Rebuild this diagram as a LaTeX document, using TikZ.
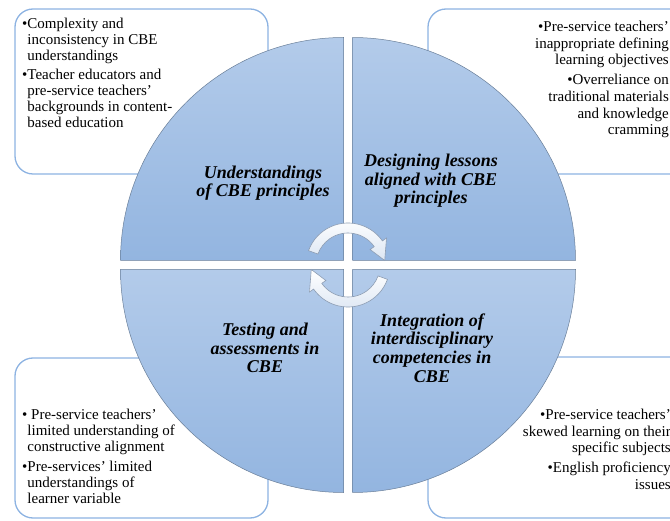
\documentclass[tikz,border=0pt]{standalone}
\usepackage{fontspec}
\setmainfont{Liberation Serif}
\definecolor{boxline}{HTML}{8DB3E2}
\definecolor{qtop}{HTML}{B3CBEA}
\definecolor{qbot}{HTML}{93B5E0}
\definecolor{qline}{HTML}{6A7F99}
\definecolor{arfill}{HTML}{DCE6F3}
\definecolor{arline}{HTML}{8C9CB2}
\newcommand{\hb}{\hphantom{\textbullet}}
\tikzset{
 issuebox/.style={draw=boxline, line width=1.3pt, fill=white, rounded corners=18pt},
 quad/.style={draw=qline, line width=0.5pt, top color=qtop, bottom color=qbot},
 qlabel/.style={font=\fontsize{18}{18.6}\selectfont\bfseries\itshape, align=center, inner sep=0pt},
 issues/.style={font=\fontsize{15}{16}\selectfont, inner sep=0pt},
 issuesr/.style={font=\fontsize{15}{16.6}\selectfont, inner sep=0pt},
 cyc/.style={draw=arline, line width=0.6pt, top color=white, bottom color=arfill},
}
\begin{document}
\begin{tikzpicture}[x=1pt,y=1pt]
\useasboundingbox (0,0) rectangle (670,520);
\clip (0,0) rectangle (670,520);
% issue boxes
\path[issuebox] (15,346) rectangle (268,511);
\path[issuebox] (428,346) rectangle (720,511);
\path[issuebox] (15,2) rectangle (268,162);
\path[issuebox] (428,2) rectangle (720,163);
% texts in boxes
\node[issues, align=left, anchor=north west] (tltext) at (22,502)
 {\textbullet Complexity and\\ \hb inconsistency in CBE\\ \hb understandings\\[2.5pt]
  \textbullet Teacher educators and\\ \hb pre-service teachers’\\ \hb backgrounds in content-\\ \hb based education};
\node[issuesr, align=right, anchor=north east] (trtext) at (669,499)
 {\textbullet Pre-service teachers’\\ inappropriate defining\\ learning objectives\\[3.5pt]
  \textbullet Overreliance on\\ traditional materials\\ and knowledge\\ cramming};
\node[issues, align=left, anchor=north west] (bltext) at (22,111)
 {\textbullet{} Pre-service teachers’\\ \hb limited understanding of\\ \hb constructive alignment\\[3.5pt]
  \textbullet Pre-services’ limited\\ \hb understandings of\\ \hb learner variable};
\node[issuesr, align=right, anchor=north east] (brtext) at (671,111)
 {\textbullet Pre-service teachers’\\ skewed learning on their\\ specific subjects\\[3.5pt]
  \textbullet English proficiency\\ issues};
% circle quadrants
\coordinate (c) at (348,255);
\path[quad] (343.5,259.5) -- ++(-223,0) arc[start angle=180,end angle=90,radius=223] -- cycle;
\path[quad] (352.5,259.5) -- ++(0,223) arc[start angle=90,end angle=0,radius=223] -- cycle;
\path[quad] (343.5,250.5) -- ++(0,-223) arc[start angle=270,end angle=180,radius=223] -- cycle;
\path[quad] (352.5,250.5) -- ++(223,0) arc[start angle=0,end angle=-90,radius=223] -- cycle;
% quadrant labels
\node[qlabel] (q1) at (263,337) {Understandings\\of CBE principles};
\node[qlabel] (q2) at (431,339) {Designing lessons\\aligned with CBE\\principles};
\node[qlabel] (q3) at (265,172) {Testing and\\assessments in\\CBE};
\node[qlabel] (q4) at (432,172) {Integration of\\interdisciplinary\\competencies in\\CBE};
% cycle arrows
\path[cyc] ([shift={(160:42)}]c) arc[start angle=160,end angle=35,radius=42]
  -- ([shift={(35:47)}]c) -- ([shift={(7:37)}]c) -- ([shift={(35:27)}]c)
  -- ([shift={(35:32)}]c) arc[start angle=35,end angle=160,radius=32] -- cycle;
\path[cyc] ([shift={(340:42)}]c) arc[start angle=340,end angle=215,radius=42]
  -- ([shift={(215:47)}]c) -- ([shift={(187:37)}]c) -- ([shift={(215:27)}]c)
  -- ([shift={(215:32)}]c) arc[start angle=215,end angle=340,radius=32] -- cycle;
\end{tikzpicture}
\end{document}
